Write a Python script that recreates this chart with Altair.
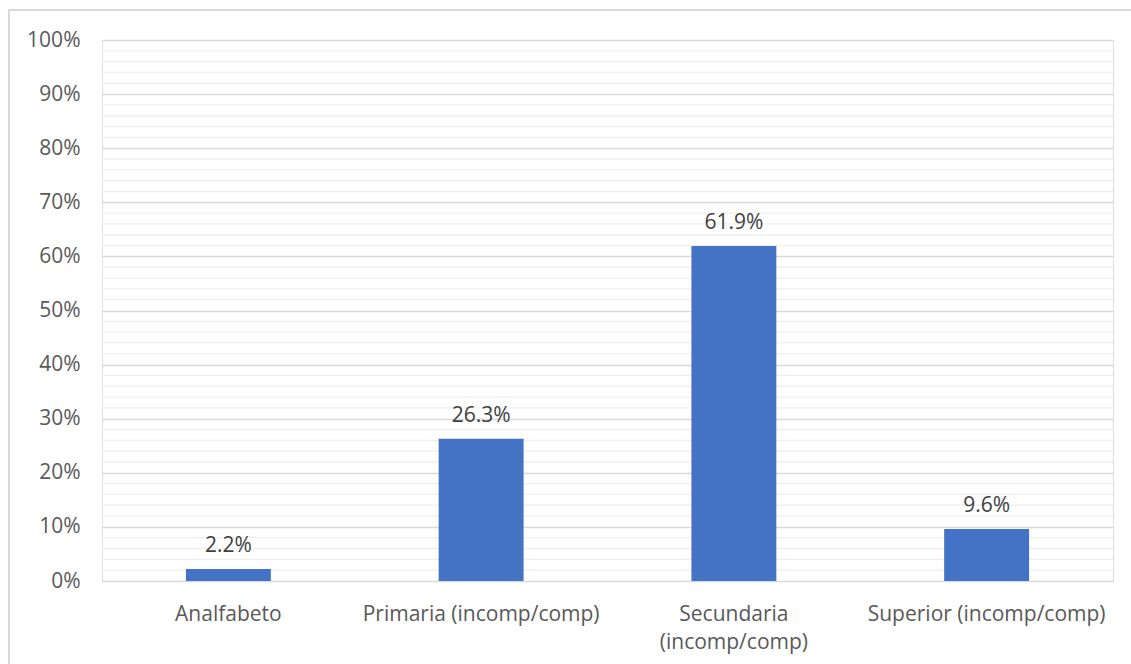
import altair as alt
import pandas as pd

categories = ["Analfabeto", "Primaria (incomp/comp)", "Secundaria (incomp/comp)", "Superior (incomp/comp)"]
values = [2.2, 26.3, 61.9, 9.6]
labels = ["2.2%", "26.3%", "61.9%", "9.6%"]
major_ticks = list(range(0, 101, 10))
minor_ticks = [v for v in range(0, 101, 2) if v % 10 != 0]

df = pd.DataFrame({"cat": categories, "val": values, "lab": labels})
minor_df = pd.DataFrame({"v": minor_ticks})

FONT = "Open Sans"
FS = 21

x_scale = alt.Scale(paddingInner=0.664, paddingOuter=0.332)
y_scale = alt.Scale(domain=[0, 100], nice=False)

x_axis = alt.Axis(
    labelAngle=0, labelFont=FONT, labelFontSize=FS, labelColor="#595959",
    labelPadding=22, ticks=False, domain=False, labelLimit=400,
    labelLineHeight=28, labelBaseline="top",
    labelExpr="datum.label == 'Secundaria (incomp/comp)' ? ['Secundaria', '(incomp/comp)'] : datum.label",
)
y_axis = alt.Axis(values=major_ticks, grid=True, gridColor="#d9d9d9", gridWidth=1.3,
                  labelExpr="datum.value + '%'", labelFont=FONT, labelFontSize=FS,
                  labelColor="#595959", labelPadding=22, ticks=False, domain=False)

minor = alt.Chart(minor_df).mark_rule(color="#efefef", strokeWidth=1.3).encode(
    y=alt.Y("v:Q", scale=y_scale, title=None, axis=y_axis),
)

bars = alt.Chart(df).mark_bar(color="#4472C4").encode(
    x=alt.X("cat:N", sort=categories, title=None, scale=x_scale, axis=x_axis),
    y=alt.Y("val:Q", scale=y_scale, title=None, axis=y_axis),
)

text = alt.Chart(df).mark_text(baseline="middle", dy=-23, font=FONT, fontSize=FS, color="#404040").encode(
    x=alt.X("cat:N", sort=categories, title=None, scale=x_scale, axis=x_axis),
    y=alt.Y("val:Q", scale=y_scale, title=None, axis=y_axis),
    text="lab:N",
)

border = alt.Chart(df).mark_rect(fill=None, stroke="#d9d9d9", strokeWidth=1.5).encode(
    x=alt.value(-93), x2=alt.value(1030), y=alt.value(-30), y2=alt.value(640),
)

chart = alt.layer(minor, bars, text, border).properties(
    width=1011, height=541,
    autosize=alt.AutoSizeParams(type="none"),
    padding={"left": 102, "top": 40, "right": 18, "bottom": 83},
).configure_view(strokeWidth=0).configure(background="white")

chart.save("out.html", embed_options={"renderer": "svg", "actions": False})
